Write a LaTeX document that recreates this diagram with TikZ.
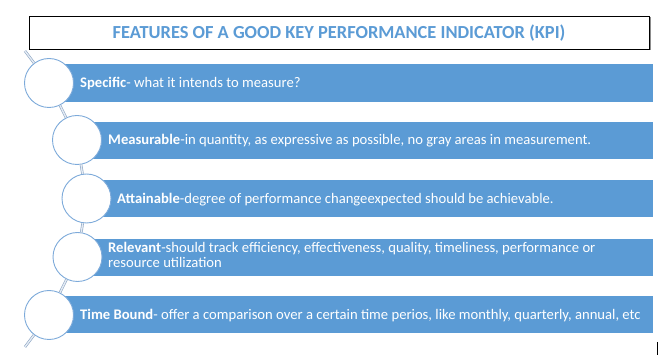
\documentclass[tikz,border=0pt]{standalone}
\usepackage{fontspec}
\setmainfont{Carlito}
\definecolor{barblue}{RGB}{91,155,213}
\definecolor{ringblue}{RGB}{125,170,218}
\definecolor{linkout}{RGB}{140,165,195}
\definecolor{linkin}{RGB}{228,235,244}
\begin{document}
\begin{tikzpicture}[x=1pt,y=-1pt,
  bar/.style={rectangle, fill=barblue, draw=none, anchor=west, inner sep=0pt},
  ring/.style={circle, fill=white, draw=ringblue, line width=0.9pt, minimum size=49pt, inner sep=0pt},
  link/.style={draw=linkout, line width=0.6pt, double=linkin, double distance=1.4pt},
  lbl/.style={anchor=base west, text=white, inner sep=0pt, font=\fontsize{14.65}{15}\selectfont},
  titlebox/.style={rectangle, draw=black, fill=white, line width=0.8pt, minimum width=620pt, minimum height=33pt, inner sep=0pt}
]
\useasboundingbox (0,0) rectangle (659,363);
% title
\fill[black!45] (30.5,17.5) rectangle (650.5,50.5);
\node[titlebox] (title) at (339.5,32.5) {};
\node[anchor=base, text=barblue, inner sep=0pt, font=\bfseries\fontsize{18.4}{20}\selectfont] (titletext) at (339,39) {FEATURES OF A GOOD KEY PERFORMANCE INDICATOR (KPI)};
% bars
\node[bar, minimum width=604pt, minimum height=38pt] (b1) at (49,83) {};
\node[bar, minimum width=576pt, minimum height=37pt] (b2) at (77,140.5) {};
\node[bar, minimum width=567pt, minimum height=37pt] (b3) at (86,199) {};
\node[bar, minimum width=576pt, minimum height=37pt] (b4) at (77,257.5) {};
\node[bar, minimum width=604pt, minimum height=37pt] (b5) at (49,315) {};
% circles
\node[ring] (c1) at (49,83) {};
\node[ring] (c2) at (77,140) {};
\node[ring] (c3) at (86.5,198.5) {};
\node[ring] (c4) at (77.5,257) {};
\node[ring] (c5) at (49,315) {};
% links
\coordinate (topend) at (25,51);
\coordinate (botend) at (25,347);
\draw[link] (topend) -- (c1);
\draw[link] (c1) -- (c2);
\draw[link] (c2) -- (c3);
\draw[link] (c3) -- (c4);
\draw[link] (c4) -- (c5);
\draw[link] (c5) -- (botend);
% texts
\node[lbl] (t1) at (80,87.5) {\textbf{Specific}- what it intends to measure?};
\node[lbl] (t2) at (108,145) {\textbf{Measurable}-in quantity, as expressive as possible, no gray areas in measurement.};
\node[lbl] (t3) at (117,203.5) {\textbf{Attainable}-degree of performance changeexpected should be achievable.};
\node[lbl] (t4a) at (108,252.5) {\textbf{Relevant}-should track efficiency, effectiveness, quality, timeliness, performance or};
\node[lbl] (t4b) at (108,267.5) {resource utilization};
\node[lbl] (t5) at (80,319.5) {\textbf{Time Bound}- offer a comparison over a certain time perios, like monthly, quarterly, annual, etc};
% cursor mark
\coordinate (cura) at (657,342);
\coordinate (curb) at (657,355);
\draw[black, line width=1pt] (cura) -- (curb);
\end{tikzpicture}
\end{document}
